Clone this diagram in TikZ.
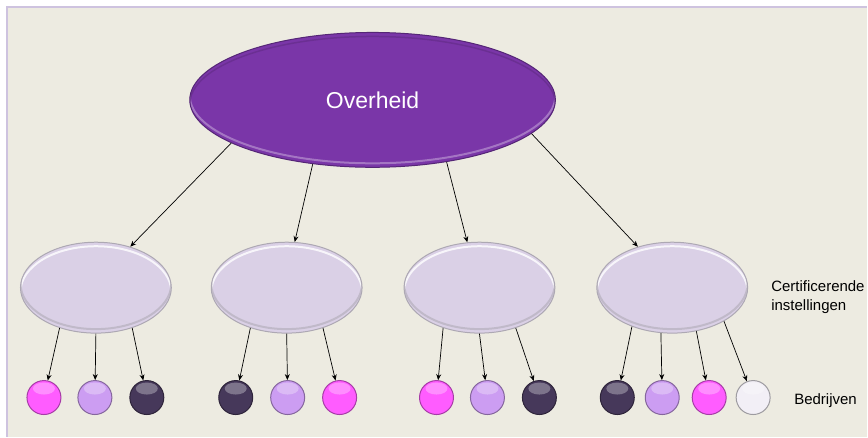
\documentclass[tikz,border=0pt]{standalone}
\usepackage{fontspec}
\setmainfont{Liberation Sans}
\usetikzlibrary{arrows.meta, shapes.geometric, positioning}

\definecolor{bgBeige}{HTML}{EDEBE1}
\definecolor{frameLila}{HTML}{CEC3DF}
\definecolor{govPurple}{HTML}{7A36A8}
\definecolor{instLila}{HTML}{DAD0E6}
\definecolor{ballPink}{HTML}{FF5CFF}
\definecolor{ballLila}{HTML}{CC9DF2}
\definecolor{ballDark}{HTML}{46385A}
\definecolor{ballWhite}{HTML}{F2EFF6}

\begin{document}
\begin{tikzpicture}[>=Stealth, x=1pt, y=-1pt,
    gov/.style={ellipse, fill=govPurple, draw=govPurple!70!black, line width=1pt,
      minimum width=366pt, minimum height=135pt, inner sep=0pt,
      text=white, font=\fontsize{23}{27}\selectfont,
      path picture={
        \draw[govPurple!55!white, line width=2pt, opacity=0.7] ([yshift=4pt]path picture bounding box.center)
          ellipse [x radius=183pt, y radius=67.5pt];
        \draw[govPurple!80!black, line width=1.5pt, opacity=0.6] ([yshift=-4pt]path picture bounding box.center)
          ellipse [x radius=183pt, y radius=67.5pt];}},
    inst/.style={ellipse, fill=instLila, draw=instLila!50!gray, line width=1pt,
      minimum width=151pt, minimum height=91pt, inner sep=0pt,
      path picture={
        \draw[white, line width=2pt, opacity=0.8] ([yshift=-4pt]path picture bounding box.center)
          ellipse [x radius=75.5pt, y radius=45.5pt];
        \draw[instLila!60!gray, line width=2pt, opacity=0.7] ([yshift=4pt]path picture bounding box.center)
          ellipse [x radius=75.5pt, y radius=45.5pt];}},
    firm/.style={circle, fill=#1, draw=#1!65!black, line width=1pt,
      minimum size=34pt, inner sep=0pt,
      path picture={
        \fill[white, opacity=0.3] ([yshift=9pt]path picture bounding box.center)
          ellipse [x radius=11pt, y radius=6pt];}},
    link/.style={-{Stealth[length=6pt,width=5pt]}, line width=0.7pt, black},
    lbl/.style={font=\fontsize{15}{19}\selectfont, align=left, anchor=west, inner sep=0pt}]

    % --- achtergrond en kader ---
    \fill[white] (0,0) rectangle (868,437);
    \fill[bgBeige] (7,7) rectangle (868,437);
    \draw[frameLila, line width=2pt] (7,437) -- (7,7) -- (868,7);

    % --- overheid (boven) ---
    \node[gov] (gov) at (373,100) {Overheid};

    % --- certificerende instellingen (midden) ---
    \foreach \n/\x in {1/96, 2/287, 3/480, 4/673}
        \node[inst] (inst\n) at (\x,288) {};

    % --- bedrijven (onder) ---
    \foreach \n/\x/\c in {11/44/ballPink, 12/95/ballLila, 13/147/ballDark,
                          21/236/ballDark, 22/288/ballLila, 23/340/ballPink,
                          31/437/ballPink, 32/488/ballLila, 33/540/ballDark,
                          41/618/ballDark, 42/663/ballLila, 43/710/ballPink, 44/754/ballWhite}
        \node[firm=\c] (firm\n) at (\x,398) {};

    % --- pijlen ---
    \draw[link] (gov.197) -- (inst1.50);
    \draw[link] (gov.227) -- (inst2.80);
    \draw[link] (gov.320) -- (inst3.105);
    \draw[link] (gov.348) -- (inst4.130);

    \foreach \n in {1,2,3}
        \foreach \a [count=\k] in {228,270,312}
            \draw[link] (inst\n.\a) -- (firm\n\k);
    \foreach \a [count=\k] in {224,256,299,327}
        \draw[link] (inst4.\a) -- (firm4\k);

    % --- labels rechts ---
    \node[lbl] (instLbl) at (772,297) {Certificerende\\instellingen};
    \node[lbl] (firmLbl) at (795,401) {Bedrijven};
\end{tikzpicture}
\end{document}
